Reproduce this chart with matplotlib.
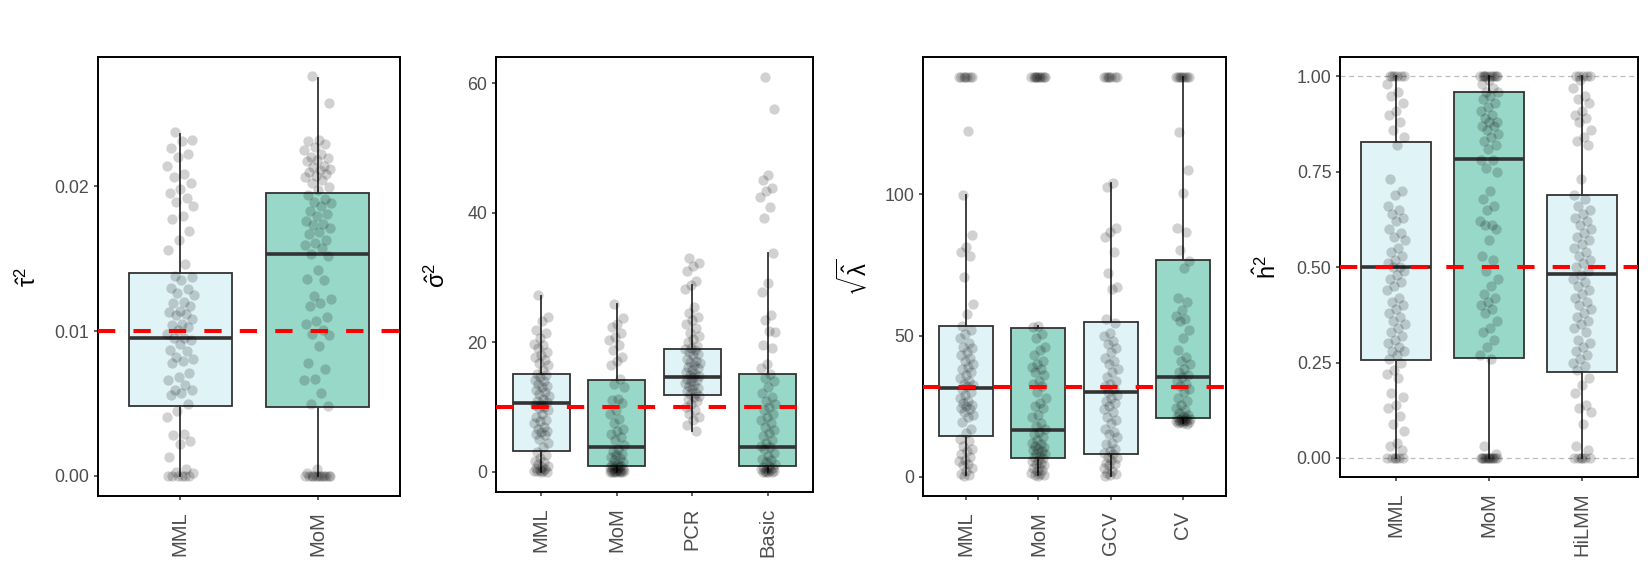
"""Four-panel estimator comparison: boxplots with jittered replicates and true value."""

import matplotlib
matplotlib.use("Agg")
import matplotlib.pyplot as plt
import numpy as np

plt.rcParams["font.family"] = ["Liberation Sans", "DejaVu Sans"]
plt.rcParams["mathtext.default"] = "regular"

LIGHT = "#E0F3F7"
TEAL = "#98D8C8"
EDGE = "#333333"

# ---- panel 1: tau^2 -------------------------------------------------------
tau_groups = ["MML", "MoM"]
tau_true = 0.01
tau_q1 = [0.00482, 0.00475]
tau_med = [0.00953, 0.01532]
tau_q3 = [0.01403, 0.01949]
tau_lo = [0.0, 0.0]
tau_hi = [0.0236, 0.02744]
tau_mml = [0.0237, 0.0232, 0.0231, 0.0226, 0.0222, 0.0220, 0.0214, 0.0208, 0.0206, 0.0202,
           0.0198, 0.0195, 0.0192, 0.0189, 0.0186, 0.0179, 0.0177, 0.0169, 0.0163, 0.0156,
           0.0146, 0.0138, 0.0137, 0.0135, 0.0130, 0.0129, 0.0126, 0.0125, 0.0120, 0.0119,
           0.0117, 0.0114, 0.0113, 0.0112, 0.0111, 0.0108, 0.0105, 0.0104, 0.0103, 0.0101,
           0.0098, 0.0095, 0.0095, 0.0094, 0.0091, 0.0087, 0.0086, 0.0082, 0.0081, 0.0079,
           0.0078, 0.0071, 0.0068, 0.0066, 0.0063, 0.0059, 0.0059, 0.0057, 0.0056, 0.0050,
           0.0045, 0.0041, 0.0029, 0.0028, 0.0024, 0.0022, 0.0013, 0.0005, 0.0003, 0.0002,
           0.0, 0.0, 0.0, 0.0, 0.0, 0.0]
tau_mom = [0.0276, 0.0257, 0.0232, 0.0231, 0.0229, 0.0227, 0.0225, 0.0222, 0.0220, 0.0219,
           0.0218, 0.0217, 0.0214, 0.0213, 0.0212, 0.0211, 0.0210, 0.0208, 0.0207, 0.0206,
           0.0204, 0.0202, 0.0199, 0.0197, 0.0194, 0.0191, 0.0189, 0.0188, 0.0186, 0.0183,
           0.0181, 0.0179, 0.0176, 0.0174, 0.0173, 0.0171, 0.0168, 0.0167, 0.0163, 0.0161,
           0.0159, 0.0157, 0.0153, 0.0152, 0.0142, 0.0136, 0.0135, 0.0124, 0.0122, 0.0119,
           0.0117, 0.0110, 0.0107, 0.0105, 0.0101, 0.0098, 0.0097, 0.0090, 0.0078, 0.0074,
           0.0067, 0.0066, 0.0057, 0.0050, 0.0048, 0.0005, 0.0002,
           0.0, 0.0, 0.0, 0.0, 0.0, 0.0, 0.0, 0.0, 0.0, 0.0, 0.0, 0.0]

# ---- panel 2: sigma^2 -----------------------------------------------------
sig_groups = ["MML", "MoM", "PCR", "Basic"]
sig_true = 10
sig_q1 = [3.3, 0.9, 11.9, 0.9]
sig_med = [10.6, 3.8, 14.7, 3.8]
sig_q3 = [15.1, 14.2, 19.0, 15.1]
sig_lo = [0.0, 0.0, 6.4, 0.0]
sig_hi = [27.2, 26.0, 28.8, 33.8]
sig_mml = [27.3, 23.9, 23.3, 21.9, 21.4, 20.7, 19.8, 19.6, 19.1, 18.5, 18.0, 17.8, 17.3,
           16.8, 16.5, 15.7, 15.2, 14.9, 14.7, 14.2, 14.0, 13.6, 13.3, 13.1, 12.6, 12.4,
           12.1, 11.8, 11.3, 11.0, 10.8, 10.5, 10.3, 10.0, 9.8, 9.5, 9.0, 8.5, 8.0, 7.8,
           7.5, 7.0, 6.7, 6.4, 6.2, 5.9, 5.7, 5.1, 4.5, 3.9, 3.1, 2.6, 2.1, 1.7, 1.5, 1.3,
           1.0, 0.8, 0.6, 0.5, 0.3, 0.2, 0.1, 0.1, 0.0, 0.0]
sig_mom = [26.0, 23.7, 22.9, 22.4, 21.4, 20.9, 20.3, 19.6, 18.8, 17.8, 17.2, 16.5, 14.4,
           13.6, 13.1, 11.3, 11.1, 10.6, 9.5, 9.0, 8.2, 7.5, 6.7, 6.4, 5.9, 5.4, 4.9, 4.1,
           3.6, 3.3, 2.8, 2.6, 2.3, 2.1, 1.8, 1.5, 1.3, 1.1, 1.0, 0.9, 0.8, 0.7, 0.6, 0.5,
           0.4, 0.3, 0.2, 0.2, 0.1, 0.1, 0.0, 0.0, 0.0, 0.0, 0.0, 0.0]
sig_pcr = [33.0, 32.2, 31.8, 31.0, 29.5, 28.8, 28.2, 25.5, 24.5, 24.0, 23.5, 22.8, 22.2,
           21.5, 21.0, 20.5, 20.0, 19.5, 19.2, 19.0, 18.8, 18.5, 18.2, 18.0, 17.5, 17.2,
           17.0, 16.8, 16.5, 16.2, 16.0, 15.8, 15.5, 15.2, 15.0, 14.8, 14.6, 14.4, 14.2,
           14.0, 13.8, 13.5, 13.2, 13.0, 12.8, 12.5, 12.2, 12.0, 11.8, 11.5, 11.2, 11.0,
           10.5, 10.0, 9.5, 9.0, 8.5, 8.0, 7.2, 6.4]
sig_basic = [61.0, 56.0, 45.9, 45.1, 43.8, 43.3, 42.5, 40.9, 39.2, 33.8, 29.1, 27.8, 24.2,
             23.5, 21.6, 21.8, 19.6, 19.2, 16.7, 16.0, 15.2, 14.5, 14.0, 13.1, 12.2, 11.5,
             11.0, 10.5, 10.0, 9.5, 9.0, 8.5, 8.0, 7.5, 7.0, 6.5, 6.0, 5.5, 5.0, 4.5, 4.0,
             3.8, 3.5, 3.0, 2.5, 2.0, 1.8, 1.5, 1.2, 1.0, 0.8, 0.6, 0.5, 0.4, 0.3, 0.2,
             0.1, 0.0, 0.0, 0.0, 0.0]

# ---- panel 3: sqrt(lambda) ------------------------------------------------
lam_groups = ["MML", "MoM", "GCV", "CV"]
lam_true = 31.62
lam_q1 = [14.4, 6.6, 7.9, 20.9]
lam_med = [31.5, 16.6, 30.1, 35.2]
lam_q3 = [53.5, 52.8, 54.9, 76.6]
lam_lo = [0.5, 0.5, 0.3, 18.9]
lam_hi = [99.6, 53.5, 104.1, 141.4]
lam_mml = [141.4, 141.4, 141.4, 141.4, 141.4, 141.4, 141.4, 122.4, 99.6, 85.6, 81.5, 79.5,
           78.0, 70.8, 61.0, 57.5, 53.5, 52.0, 50.5, 49.0, 47.5, 46.0, 45.5, 44.0, 43.0,
           42.0, 41.0, 40.0, 39.0, 38.0, 37.0, 36.0, 35.0, 34.0, 33.0, 32.5, 32.0, 31.0,
           30.0, 29.0, 28.0, 27.0, 26.0, 25.5, 25.0, 24.5, 24.0, 23.0, 22.0, 21.0, 19.5,
           17.0, 15.5, 13.5, 12.5, 11.0, 10.0, 9.0, 8.0, 7.0, 6.0, 5.5, 4.5, 4.0, 3.0, 2.0,
           1.0, 0.5, 0.3]
lam_mom = [141.4, 141.4, 141.4, 141.4, 141.4, 141.4, 141.4, 141.4, 141.4, 141.4, 53.5,
           53.2, 50.5, 49.0, 46.0, 45.0, 43.0, 41.0, 40.0, 39.0, 38.0, 37.0, 36.0, 34.0,
           33.0, 32.0, 30.0, 28.0, 26.0, 25.0, 24.5, 22.0, 21.0, 19.0, 18.0, 17.0, 16.0,
           15.0, 14.0, 13.0, 12.0, 11.5, 11.0, 10.5, 10.0, 9.5, 9.0, 8.5, 8.0, 7.5, 7.0,
           6.5, 6.0, 5.5, 5.0, 4.5, 4.0, 3.5, 3.0, 2.5, 2.0, 1.5, 1.0, 0.8, 0.5, 0.3]
lam_gcv = [141.4, 141.4, 141.4, 141.4, 141.4, 141.4, 141.4, 104.0, 102.7, 88.0, 86.5, 85.0,
           79.5, 72.0, 67.1, 66.5, 56.0, 54.5, 51.0, 50.0, 48.0, 47.0, 45.5, 44.0, 42.0,
           41.0, 40.0, 38.0, 37.0, 35.5, 34.0, 33.0, 32.0, 31.0, 30.0, 29.0, 28.0, 27.0,
           26.0, 25.0, 24.0, 23.0, 21.0, 20.0, 19.0, 17.0, 16.0, 15.0, 14.0, 12.0, 11.5,
           10.0, 9.0, 8.5, 8.0, 7.0, 6.5, 6.0, 5.0, 4.5, 4.0, 3.0, 2.0, 1.5, 1.0, 0.5, 0.3]
lam_cv = [141.4, 141.4, 141.4, 141.4, 141.4, 141.4, 141.4, 141.4, 122.2, 108.6, 100.5, 88.0,
          86.5, 80.3, 76.5, 74.0, 63.4, 62.0, 59.0, 57.0, 56.0, 55.0, 52.0, 49.0, 45.0,
          42.5, 41.0, 40.0, 38.0, 37.0, 36.0, 35.5, 34.0, 33.0, 32.0, 31.0, 30.0, 28.0,
          27.0, 25.5, 24.5, 23.5, 22.5, 22.0, 21.5, 21.0, 20.8, 20.5, 20.3, 20.2, 20.1,
          20.0, 19.9, 19.8, 19.6, 19.5, 19.3, 19.2, 19.0, 18.8]

# ---- panel 4: h^2 ---------------------------------------------------------
h_groups = ["MML", "MoM", "HiLMM"]
h_true = 0.5
h_q1 = [0.258, 0.263, 0.226]
h_med = [0.500, 0.784, 0.481]
h_q3 = [0.827, 0.958, 0.688]
h_lo = [0.0, 0.0, 0.0]
h_hi = [1.0, 1.0, 1.0]
h_mml = [1.0, 1.0, 1.0, 1.0, 1.0, 1.0, 0.98, 0.96, 0.95, 0.93, 0.91, 0.90, 0.88, 0.86,
         0.84, 0.82, 0.73, 0.70, 0.69, 0.66, 0.65, 0.64, 0.63, 0.62, 0.60, 0.59, 0.58,
         0.57, 0.55, 0.54, 0.53, 0.52, 0.51, 0.50, 0.50, 0.49, 0.48, 0.47, 0.46, 0.45,
         0.44, 0.42, 0.41, 0.40, 0.39, 0.38, 0.37, 0.36, 0.35, 0.34, 0.33, 0.32, 0.31,
         0.30, 0.29, 0.28, 0.28, 0.27, 0.26, 0.25, 0.23, 0.22, 0.21, 0.17, 0.16, 0.14,
         0.13, 0.11, 0.09, 0.07, 0.04, 0.03, 0.02, 0.0, 0.0, 0.0, 0.0, 0.0, 0.0]
h_mom = [1.0, 1.0, 1.0, 1.0, 1.0, 1.0, 1.0, 1.0, 1.0, 1.0, 0.99, 0.98, 0.97, 0.96, 0.96,
         0.95, 0.94, 0.93, 0.92, 0.91, 0.90, 0.89, 0.88, 0.88, 0.87, 0.87, 0.86, 0.85,
         0.84, 0.83, 0.82, 0.81, 0.78, 0.78, 0.76, 0.75, 0.70, 0.68, 0.66, 0.65, 0.62,
         0.61, 0.61, 0.60, 0.57, 0.53, 0.52, 0.49, 0.47, 0.45, 0.43, 0.42, 0.41, 0.40,
         0.39, 0.38, 0.36, 0.34, 0.33, 0.31, 0.29, 0.27, 0.26, 0.03, 0.01,
         0.0, 0.0, 0.0, 0.0, 0.0, 0.0, 0.0, 0.0, 0.0, 0.0, 0.0, 0.0]
h_hilmm = [1.0, 1.0, 1.0, 1.0, 1.0, 0.99, 0.97, 0.95, 0.94, 0.93, 0.91, 0.90, 0.89, 0.88,
           0.86, 0.84, 0.83, 0.82, 0.73, 0.69, 0.68, 0.66, 0.65, 0.64, 0.63, 0.62, 0.61,
           0.60, 0.59, 0.58, 0.57, 0.56, 0.55, 0.54, 0.53, 0.52, 0.51, 0.50, 0.49, 0.48,
           0.47, 0.46, 0.45, 0.44, 0.43, 0.42, 0.41, 0.40, 0.39, 0.38, 0.37, 0.36, 0.35,
           0.34, 0.33, 0.31, 0.30, 0.29, 0.28, 0.27, 0.26, 0.25, 0.24, 0.23, 0.21, 0.19,
           0.17, 0.14, 0.13, 0.12, 0.09, 0.03, 0.02, 0.0, 0.0, 0.0, 0.0, 0.0, 0.0]

FILLS = [LIGHT, TEAL, LIGHT, TEAL]

W, H = 1650, 569
fig = plt.figure(figsize=(W / 100, H / 100), dpi=100)


def px_axes(x0, y0, x1, y1):
    return fig.add_axes([x0 / W, 1 - y1 / H, (x1 - x0) / W, (y1 - y0) / H])


def jitter(n, width=0.1):
    # deterministic spread (golden-ratio sequence) in place of random jitter
    k = np.arange(n)
    return ((k * 0.6180339887 + 0.31) % 1.0 - 0.5) * 2 * width


def panel(ax, groups, series, q1, med, q3, lo, hi, true, ylim, yticks, fmt, guides=()):
    for g in guides:
        ax.axhline(g, color="#BDBDBD", lw=0.9, ls=(0, (4, 3)), zorder=0)
    stats = [dict(q1=a, med=m, q3=b, whislo=l, whishi=h, label=g)
             for a, m, b, l, h, g in zip(q1, med, q3, lo, hi, groups)]
    pos = np.arange(1, len(groups) + 1)
    bp = ax.bxp(stats, positions=pos, widths=0.75, patch_artist=True,
                showfliers=False, showcaps=False,
                boxprops=dict(edgecolor=EDGE, lw=1.3),
                whiskerprops=dict(color=EDGE, lw=1.3),
                medianprops=dict(color=EDGE, lw=2.6, solid_capstyle="butt"),
                zorder=2)
    for patch, c in zip(bp["boxes"], FILLS):
        patch.set_facecolor(c)
    for p, vals in zip(pos, series):
        vals = np.asarray(vals, dtype=float)
        ax.scatter(p + jitter(len(vals)), vals, s=55, color="black", alpha=0.18,
                   lw=0, zorder=3)
    ax.axhline(true, color="red", lw=2.9, ls=(0, (4.3, 4.5)), zorder=4)
    ax.set_xlim(0.4, len(groups) + 0.6)
    ax.set_ylim(*ylim)
    ax.set_yticks(yticks)
    ax.set_yticklabels([fmt.format(t) for t in yticks])
    ax.set_xticks(pos)
    ax.set_xticklabels(groups, rotation=90)
    ax.tick_params(labelcolor="#4D4D4D", color=EDGE, length=3.2, width=1.1)
    ax.tick_params(axis="y", labelsize=12.8, pad=3)
    ax.tick_params(axis="x", labelsize=14.5, pad=8)
    for s in ax.spines.values():
        s.set_linewidth(1.4)


ax1 = px_axes(98, 57, 400, 496)
panel(ax1, tau_groups, [tau_mml, tau_mom], tau_q1, tau_med, tau_q3, tau_lo, tau_hi,
      tau_true, (-0.00138, 0.0289), [0.0, 0.01, 0.02], "{:.2f}")

ax2 = px_axes(496, 57, 813, 492)
panel(ax2, sig_groups, [sig_mml, sig_mom, sig_pcr, sig_basic], sig_q1, sig_med, sig_q3,
      sig_lo, sig_hi, sig_true, (-3.09, 64.06), [0, 20, 40, 60], "{:.0f}")

ax3 = px_axes(923, 57, 1226, 496)
panel(ax3, lam_groups, [lam_mml, lam_mom, lam_gcv, lam_cv], lam_q1, lam_med, lam_q3,
      lam_lo, lam_hi, lam_true, (-6.8, 148.6), [0, 50, 100], "{:.0f}")

ax4 = px_axes(1340, 57, 1638, 477)
panel(ax4, h_groups, [h_mml, h_mom, h_hilmm], h_q1, h_med, h_q3, h_lo, h_hi,
      h_true, (-0.05, 1.051), [0.0, 0.25, 0.5, 0.75, 1.0], "{:.2f}", guides=(0.0, 1.0))

for x, y, lab in [(28, 277, r"$\hat{\tau}^2$"), (437, 275, r"$\hat{\sigma}^2$"),
                  (855, 277, r"$\sqrt{\hat{\lambda}}$"), (1267, 267, r"$\hat{h}^2$")]:
    fig.text(x / W, 1 - y / H, lab, rotation=90, ha="center", va="center", fontsize=17)

fig.savefig("out.png", dpi=100)
